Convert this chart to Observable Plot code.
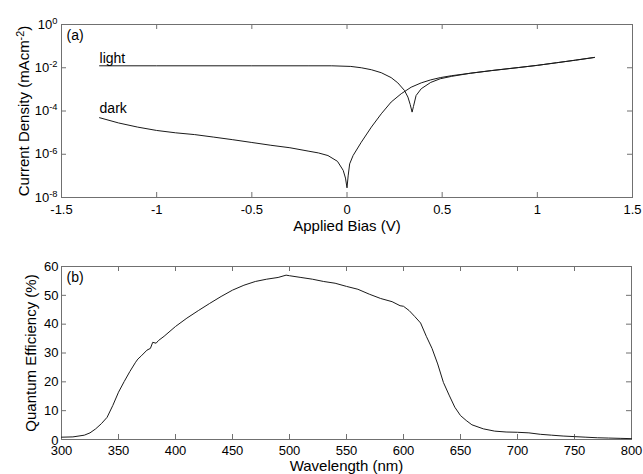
<!DOCTYPE html>
<html><head><meta charset="utf-8">
<script src="https://cdn.jsdelivr.net/npm/d3@7"></script>
<script src="https://cdn.jsdelivr.net/npm/@observablehq/plot@0.6"></script>
<style>
body{margin:0;background:#fff;}
#chart svg{display:block;}
</style>
</head><body><div id="chart"></div>
<script>
// ---- Panel (a): J-V curves (current density in mA/cm^2) ----
const biasDark = [-1.3,-1.2,-1.1,-1.0,-0.9,-0.8,-0.7,-0.6,-0.5,-0.4,-0.3,-0.2,-0.15,-0.1,-0.05,-0.02,-0.008,0,0.006,0.014,0.032,0.075,0.128,0.18,0.232,0.285,0.337,0.39,0.44,0.49,0.55,0.65,0.76,0.9,1.0,1.1,1.2,1.3];
const currentDark = [4.9e-5,2.8e-5,1.8e-5,1.26e-5,9.8e-6,8.1e-6,6.2e-6,4.7e-6,3.5e-6,2.6e-6,2.0e-6,1.38e-6,1.15e-6,8.7e-7,4.7e-7,1.8e-7,7.9e-8,2.8e-8,1.0e-7,3.6e-7,8.7e-7,3.6e-6,1.8e-5,7.4e-5,2.6e-4,6.3e-4,1.26e-3,2.0e-3,2.75e-3,3.5e-3,4.3e-3,5.6e-3,7.4e-3,1.02e-2,1.29e-2,1.7e-2,2.24e-2,3.0e-2];
const biasLight = [-1.3,-1.0,-0.5,-0.2,-0.08,0.02,0.075,0.128,0.18,0.232,0.267,0.302,0.32,0.332,0.342,0.349,0.363,0.39,0.44,0.49,0.55,0.65,0.76,0.9,1.0,1.1,1.2,1.3];
const currentLight = [1.23e-2,1.23e-2,1.23e-2,1.23e-2,1.23e-2,1.15e-2,1.0e-2,8.1e-3,5.9e-3,3.5e-3,2.0e-3,8.9e-4,4.4e-4,2.0e-4,8.9e-5,1.6e-4,5.2e-4,1.07e-3,2.1e-3,3.1e-3,4.0e-3,5.6e-3,7.4e-3,1.02e-2,1.29e-2,1.7e-2,2.24e-2,3.0e-2];
const seriesNames = ["light","dark"];
const biasTicks = [-1.5,-1,-0.5,0,0.5,1,1.5];
const currentTicks = [1e-8,1e-6,1e-4,1e-2,1];

// ---- Panel (b): quantum efficiency ----
const wavelength = [300,310,320,325,330,335,340,345,350,355,360,365,367,370,375,378,380,383,385,390,400,410,420,430,440,450,460,470,480,490,497,500,510,520,530,540,550,560,570,580,590,597,600,605,610,615,620,625,630,635,640,645,650,655,660,670,680,690,700,710,720,730,740,750,760,770,780,790,800];
const efficiency = [0.8,0.9,1.5,2.3,3.7,5.5,7.7,11.8,16.4,20.1,23.6,26.8,27.9,29,31,31.6,33.7,33.4,34.3,35.8,39.2,42.1,44.7,47.2,49.6,51.8,53.5,54.8,55.6,56.2,57.0,56.8,56.2,55.6,54.8,54.2,53.1,52.1,50.4,48.9,47.8,46.4,46.2,44.7,42.6,40.4,35.8,31.6,26.2,19.8,15.4,11.2,8.3,6.6,5.1,3.7,2.9,2.6,2.5,2.3,1.8,1.5,1.2,1.0,0.8,0.6,0.5,0.4,0.3];
const wavelengthTicks = [300,350,400,450,500,550,600,650,700,750,800];
const efficiencyTicks = [0,10,20,30,40,50,60];

const darkRows = biasDark.map((v,i)=>({v, j: currentDark[i]}));
const lightRows = biasLight.map((v,i)=>({v, j: currentLight[i]}));
const qeRows = wavelength.map((w,i)=>({w, q: efficiency[i]}));

const W = 643;
const FONT = "'Liberation Sans', Arial, Helvetica, sans-serif";
const frameColor = "#707070";
const lineColor = "#1a1a1a";
const tickLen = 5;

function inwardTicks(xTicks, yTicks, innerW, innerH) {
  return [
    Plot.tickX(xTicks, {x: d=>d, insetTop: innerH - tickLen, stroke: frameColor}),
    Plot.tickX(xTicks, {x: d=>d, insetBottom: innerH - tickLen, stroke: frameColor}),
    Plot.tickY(yTicks, {y: d=>d, insetRight: innerW - tickLen, stroke: frameColor}),
    Plot.tickY(yTicks, {y: d=>d, insetLeft: innerW - tickLen, stroke: frameColor})
  ];
}

// Panel (a)
const mA = {top:24, right:11, bottom:43, left:61};
const hA = 240;
const innerWA = W - mA.left - mA.right, innerHA = hA - mA.top - mA.bottom;
const plotA = Plot.plot({
  width: W, height: hA,
  marginTop: mA.top, marginRight: mA.right, marginBottom: mA.bottom, marginLeft: mA.left,
  style: {fontFamily: FONT, fontSize: "13px", color: "#000", background: "#fff", overflow: "visible"},
  x: {domain: [-1.5, 1.5]},
  y: {type: "log", domain: [1e-8, 1]},
  marks: [
    ...inwardTicks(biasTicks, currentTicks, innerWA, innerHA),
    Plot.frame({stroke: frameColor}),
    Plot.axisX(biasTicks, {tickSize: 0, tickPadding: 7, fontSize: 13, tickFormat: d => String(d),
      label: "Applied Bias (V)", labelAnchor: "center", labelOffset: 33, labelArrow: false}),
    Plot.axisY(currentTicks, {tickSize: 0, tickPadding: 4, fontSize: 13,
      tickFormat: d => "10^" + Math.round(Math.log10(d)),
      label: "Current Density (mAcm-2)", labelAnchor: "center", labelOffset: 43, labelArrow: false}),
    Plot.line(darkRows, {x: "v", y: "j", stroke: lineColor, strokeWidth: 1}),
    Plot.line(lightRows, {x: "v", y: "j", stroke: lineColor, strokeWidth: 1}),
    Plot.text([lightRows[0]], {x: "v", y: "j", text: () => seriesNames[0], textAnchor: "start", lineAnchor: "bottom", dy: -3, fontSize: 14}),
    Plot.text([darkRows[0]], {x: "v", y: "j", text: () => seriesNames[1], textAnchor: "start", lineAnchor: "bottom", dy: -5, fontSize: 14}),
    Plot.text(["(a)"], {frameAnchor: "top-left", text: d => d, textAnchor: "start", lineAnchor: "top", dx: 5, dy: 6, fontSize: 14})
  ]
});

// Panel (b)
const mB = {top:26, right:12, bottom:35, left:61};
const hB = 234;
const innerWB = W - mB.left - mB.right, innerHB = hB - mB.top - mB.bottom;
const plotB = Plot.plot({
  width: W, height: hB,
  marginTop: mB.top, marginRight: mB.right, marginBottom: mB.bottom, marginLeft: mB.left,
  style: {fontFamily: FONT, fontSize: "13px", color: "#000", background: "#fff", overflow: "visible"},
  x: {domain: [300, 800]},
  y: {domain: [0, 60]},
  marks: [
    ...inwardTicks(wavelengthTicks, efficiencyTicks, innerWB, innerHB),
    Plot.frame({stroke: frameColor}),
    Plot.axisX(wavelengthTicks, {tickSize: 0, tickPadding: 6, fontSize: 13, tickFormat: d => String(d),
      label: "Wavelength (nm)", labelAnchor: "center", labelOffset: 31, labelArrow: false}),
    Plot.axisY(efficiencyTicks, {tickSize: 0, tickPadding: 3, fontSize: 13, tickFormat: d => String(d),
      label: "Quantum Efficiency (%)", labelAnchor: "center", labelOffset: 36, labelArrow: false}),
    Plot.line(qeRows, {x: "w", y: "q", stroke: lineColor, strokeWidth: 1}),
    Plot.text(["(b)"], {frameAnchor: "top-left", text: d => d, textAnchor: "start", lineAnchor: "top", dx: 5, dy: 6, fontSize: 14})
  ]
});

const chart = document.getElementById("chart");
chart.appendChild(plotA);
chart.appendChild(plotB);

const NS = "http://www.w3.org/2000/svg";
function setSup(textEl, base, exp, tail) {
  while (textEl.firstChild) textEl.removeChild(textEl.firstChild);
  const t1 = document.createElementNS(NS, "tspan"); t1.textContent = base; textEl.appendChild(t1);
  const t2 = document.createElementNS(NS, "tspan"); t2.textContent = exp;
  t2.setAttribute("dy", "-0.5em"); t2.setAttribute("font-size", "0.72em"); textEl.appendChild(t2);
  if (tail) {
    const t3 = document.createElementNS(NS, "tspan"); t3.textContent = tail;
    t3.setAttribute("dy", "0.36em"); textEl.appendChild(t3);
  }
}
plotA.querySelectorAll('g[aria-label="y-axis tick label"] text').forEach(t => {
  const s = t.textContent;
  if (s.startsWith("10^")) setSup(t, "10", s.slice(3));
});
plotA.querySelectorAll('g[aria-label="y-axis label"] text').forEach(t => {
  setSup(t, "Current Density (mAcm", "-2", ")");
});
// lift the bottom-left "0" slightly so it clears the "300" below it
plotB.querySelectorAll('g[aria-label="y-axis tick label"] text').forEach(t => {
  if (t.textContent === "0") t.setAttribute("dy", "0.12em");
});
document.querySelectorAll('g[aria-label="x-axis label"] text, g[aria-label="y-axis label"] text').forEach(t => t.setAttribute("font-size", "15"));
</script>
</body></html>
